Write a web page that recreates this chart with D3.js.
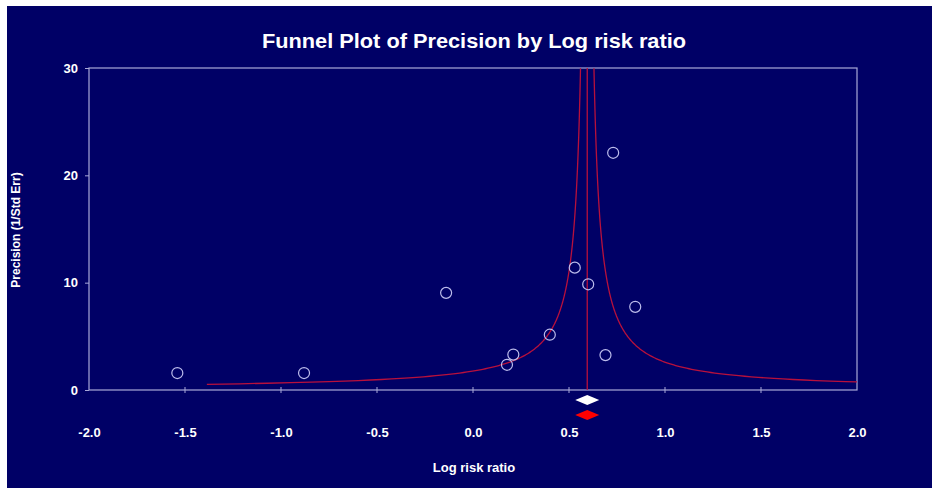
<!DOCTYPE html>
<html>
<head>
<meta charset="utf-8">
<script src="https://cdn.jsdelivr.net/npm/d3@7"></script>
<style>
  body { margin: 0; background: #ffffff; }
  text { font-family: "Liberation Sans", Arial, sans-serif; font-weight: bold; fill: #ffffff; }
</style>
</head>
<body>
<script>
// study values
var logRiskRatio = [-1.54, -0.88, -0.14, 0.177, 0.21, 0.40, 0.53, 0.60, 0.69, 0.73, 0.845];
var precision    = [1.58, 1.58, 9.05, 2.35, 3.3, 5.15, 11.4, 9.85, 3.25, 22.1, 7.75];
var xTicks = [-2.0, -1.5, -1.0, -0.5, 0.0, 0.5, 1.0, 1.5, 2.0];
var yTicks = [0, 10, 20, 30];

// pooled estimate and funnel limits
var pooledEstimate = 0.595;
var diamondHalfWidth = 0.0625;
var funnelZ = 1.05;
var funnelMinPrecision = 0.53;

var width = 932, height = 492;
var plotLeft = 89, plotRight = 857, plotTop = 68, plotBottom = 390;

var svg = d3.select("body")
  .append("svg")
  .attr("width", width)
  .attr("height", height)
  ;

svg.append("rect")
  .attr("x", 7)
  .attr("y", 6)
  .attr("width", width - 7)
  .attr("height", 482)
  .attr("fill", "#000066")
  ;

var x = d3.scaleLinear().domain([-2, 2]).range([plotLeft, plotRight]);
var y = d3.scaleLinear().domain([0, 30]).range([plotBottom, plotTop]);

// title (condensed like the original)
svg.append("text")
  .text("Funnel Plot of Precision by Log risk ratio")
  .attr("x", 474)
  .attr("y", 48)
  .attr("text-anchor", "middle")
  .attr("font-size", 21)
  .attr("textLength", 424)
  .attr("lengthAdjust", "spacingAndGlyphs")
  ;

// frame
svg.append("rect")
  .attr("x", plotLeft)
  .attr("y", plotTop)
  .attr("width", plotRight - plotLeft)
  .attr("height", plotBottom - plotTop)
  .attr("fill", "none")
  .attr("stroke", "#a8a8d8")
  .attr("stroke-width", 1.2)
  ;

svg.append("defs").append("clipPath")
  .attr("id", "plot-clip")
  .append("rect")
  .attr("x", plotLeft)
  .attr("y", plotTop)
  .attr("width", plotRight - plotLeft)
  .attr("height", plotBottom - plotTop)
  ;

// x axis
var xAxis = d3.axisBottom(x).tickValues(xTicks).tickSize(0).tickPadding(0);
var gx = svg.append("g").attr("transform", "translate(0," + plotBottom + ")").call(xAxis);
gx.select(".domain").remove();
gx.selectAll("line").remove();
gx.selectAll("text")
  .attr("y", 47)
  .attr("dy", 0)
  .attr("font-size", 13)
  .attr("fill", "#ffffff")
  .attr("font-family", "Liberation Sans, Arial, sans-serif")
  .text(function(d) { return d3.format(".1f")(d).replace("\u2212", "-"); })
  ;
svg.selectAll(".xtick-mark")
  .data(xTicks.slice(1, -1))
  .enter().append("line")
  .attr("class", "xtick-mark")
  .attr("x1", function(d) { return x(d); })
  .attr("x2", function(d) { return x(d); })
  .attr("y1", plotBottom - 3)
  .attr("y2", plotBottom + 3)
  .attr("stroke", "#a8a8d8")
  ;

// y axis
var yAxis = d3.axisLeft(y).tickValues(yTicks).tickSize(4).tickPadding(7);
var gy = svg.append("g").attr("transform", "translate(" + plotLeft + ",0)").call(yAxis);
gy.select(".domain").remove();
gy.selectAll("line").attr("stroke", "#a8a8d8");
gy.selectAll("text")
  .attr("font-size", 13)
  .attr("fill", "#ffffff")
  .attr("font-family", "Liberation Sans, Arial, sans-serif")
  ;

// axis titles
svg.append("text")
  .text("Log risk ratio")
  .attr("x", 474)
  .attr("y", 472)
  .attr("text-anchor", "middle")
  .attr("font-size", 13)
  ;
svg.append("text")
  .text("Precision (1/Std Err)")
  .attr("transform", "translate(20,230) rotate(-90)")
  .attr("text-anchor", "middle")
  .attr("font-size", 12)
  ;

// funnel
var funnelPrecision = d3.range(funnelMinPrecision, 30.01, 0.05);
var funnel = svg.append("g").attr("clip-path", "url(#plot-clip)");
var line = d3.line()
  .x(function(d) { return x(d[0]); })
  .y(function(d) { return y(d[1]); });

[-1, 1].forEach(function(side) {
  funnel.append("path")
    .attr("d", line(funnelPrecision.map(function(p) {
      return [pooledEstimate + side * funnelZ / p, p];
    })))
    .attr("fill", "none")
    .attr("stroke", "#b8103c")
    .attr("stroke-width", 1.3)
    ;
});
funnel.append("line")
  .attr("x1", x(pooledEstimate))
  .attr("x2", x(pooledEstimate))
  .attr("y1", y(0))
  .attr("y2", y(30))
  .attr("stroke", "#b8103c")
  .attr("stroke-width", 1.3)
  ;

// studies
svg.selectAll(".point")
  .data(logRiskRatio)
  .enter().append("circle")
  .attr("class", "point")
  .attr("cx", function(d) { return x(d); })
  .attr("cy", function(d, i) { return y(precision[i]); })
  .attr("r", 5.5)
  .attr("fill", "none")
  .attr("stroke", "#bcbcec")
  .attr("stroke-width", 1.2)
  ;

// summary diamonds
var diamond = function(cy, fill) {
  var pts = [
    [x(pooledEstimate - diamondHalfWidth), cy],
    [x(pooledEstimate), cy - 5],
    [x(pooledEstimate + diamondHalfWidth), cy],
    [x(pooledEstimate), cy + 5]
  ];
  svg.append("path")
    .attr("d", "M" + pts.join("L") + "Z")
    .attr("fill", fill)
    ;
};
diamond(400, "#ffffff");
diamond(415, "#ff0000");
</script>
</body>
</html>
